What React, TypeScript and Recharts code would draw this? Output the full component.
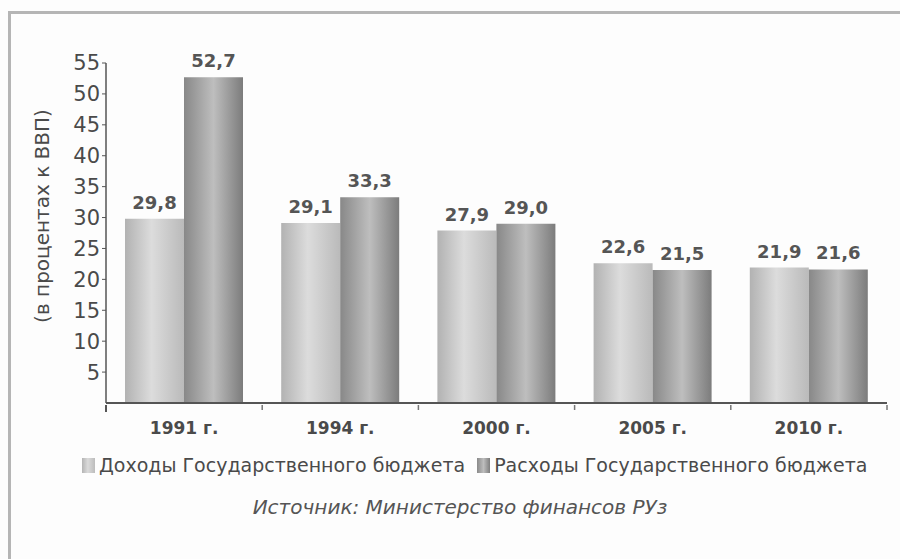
import { BarChart, Bar, XAxis, YAxis, LabelList } from "recharts";

// values (% of GDP)
const years = ["1991 г.", "1994 г.", "2000 г.", "2005 г.", "2010 г."];
const revenue = [29.8, 29.1, 27.9, 22.6, 21.9];
const expenses = [52.7, 33.3, 29.0, 21.5, 21.6];
const yTicks = [5, 10, 15, 20, 25, 30, 35, 40, 45, 50, 55];

const revenueName = "Доходы Государственного бюджета";
const expensesName = "Расходы Государственного бюджета";
const yLabel = "(в процентах к ВВП)";
const source = "Источник: Министерство финансов РУз";

const data = years.map((year, i) => ({
  year,
  revenue: revenue[i],
  expenses: expenses[i],
}));

const W = 900;
const H = 440;
const margin = { top: 63, right: 13, left: 56, bottom: 0 };
const yAxisWidth = 50;
const band = (W - margin.left - margin.right - yAxisWidth) / years.length;

const textColor = "#4a4a4a";
const font = "'DejaVu Sans', Arial, sans-serif";

const fmt = (v: any) => Number(v).toFixed(1).replace(".", ",");

function XTick(props: any) {
  const { x, y, payload, index } = props;
  const axisY = y - 6;
  return (
    <g>
      {index === 0 && (
        <line x1={x - band / 2} x2={x - band / 2} y1={axisY} y2={axisY + 7} stroke="#555" strokeWidth={2} />
      )}
      <line x1={x + band / 2} x2={x + band / 2} y1={axisY} y2={axisY + 5} stroke="#777" strokeWidth={1.5} />
      <text
        x={x}
        y={axisY + 29}
        textAnchor="middle"
        fontFamily={font}
        fontWeight="bold"
        fontSize={17}
        fill={textColor}
      >
        {payload.value}
      </text>
    </g>
  );
}

function YLabel(props: any) {
  const { viewBox } = props;
  const cx = viewBox.x - 14;
  const cy = viewBox.y + viewBox.height / 2 - 17;
  return (
    <text
      transform={`translate(${cx},${cy}) rotate(-90)`}
      textAnchor="middle"
      dominantBaseline="central"
      fontFamily={font}
      fontSize={20}
      fill={textColor}
    >
      {yLabel}
    </text>
  );
}

const legendIcon = (light: boolean) => ({
  display: "inline-block",
  width: 13,
  height: 15,
  marginRight: 4,
  background: light
    ? "linear-gradient(to right, #b4b4b4, #dadada 45%, #bcbcbc)"
    : "linear-gradient(to right, #8a8a8a, #bdbdbd 50%, #7e7e7e)",
});

export default function App() {
  return (
    <div
      style={{
        position: "absolute",
        left: 0,
        top: 0,
        width: W,
        height: 559,
        overflow: "hidden",
        background: "#fdfdfd",
        fontFamily: font,
      }}
    >
      <div
        style={{
          position: "absolute",
          left: 8,
          top: 11,
          width: 920,
          height: 560,
          border: "3px solid #b5b5b5",
        }}
      />
      <div style={{ position: "absolute", left: 0, top: 0 }}>
        <BarChart width={W} height={H} data={data} margin={margin} barGap={0} barCategoryGap={19}>
          <defs>
            <linearGradient id="revGrad" x1="0" y1="0" x2="1" y2="0">
              <stop offset="0%" stopColor="#b2b2b2" />
              <stop offset="45%" stopColor="#dcdcdc" />
              <stop offset="100%" stopColor="#bababa" />
            </linearGradient>
            <linearGradient id="expGrad" x1="0" y1="0" x2="1" y2="0">
              <stop offset="0%" stopColor="#888888" />
              <stop offset="50%" stopColor="#bebebe" />
              <stop offset="100%" stopColor="#7c7c7c" />
            </linearGradient>
          </defs>
          <XAxis
            dataKey="year"
            height={37}
            tickLine={false}
            axisLine={{ stroke: "#555", strokeWidth: 2 }}
            tick={<XTick />}
            interval={0}
          />
          <YAxis
            width={yAxisWidth}
            domain={[0, 55]}
            ticks={yTicks}
            tickSize={4}
            tickMargin={2}
            axisLine={{ stroke: "#555", strokeWidth: 1.5 }}
            tickLine={{ stroke: "#555" }}
            tick={{ fill: textColor, fontSize: 21, fontFamily: font }}
            label={<YLabel />}
          />
          <Bar dataKey="revenue" name={revenueName} fill="url(#revGrad)" isAnimationActive={false}>
            <LabelList
              dataKey="revenue"
              position="top"
              offset={10}
              formatter={fmt}
              style={{ fill: "#555", fontSize: 18, fontWeight: "bold", fontFamily: font }}
            />
          </Bar>
          <Bar dataKey="expenses" name={expensesName} fill="url(#expGrad)" isAnimationActive={false}>
            <LabelList
              dataKey="expenses"
              position="top"
              offset={10}
              formatter={fmt}
              style={{ fill: "#555", fontSize: 18, fontWeight: "bold", fontFamily: font }}
            />
          </Bar>
        </BarChart>
      </div>
      <div
        style={{
          position: "absolute",
          left: 82,
          top: 454,
          display: "flex",
          alignItems: "center",
          fontSize: 19,
          color: textColor,
          whiteSpace: "nowrap",
        }}
      >
        <span style={legendIcon(true)} />
        <span>{revenueName}</span>
        <span style={{ ...legendIcon(false), marginLeft: 12 }} />
        <span>{expensesName}</span>
      </div>
      <div
        style={{
          position: "absolute",
          left: 0,
          width: 920,
          top: 495,
          textAlign: "center",
          fontSize: 20,
          fontStyle: "italic",
          color: "#555",
        }}
      >
        {source}
      </div>
    </div>
  );
}
